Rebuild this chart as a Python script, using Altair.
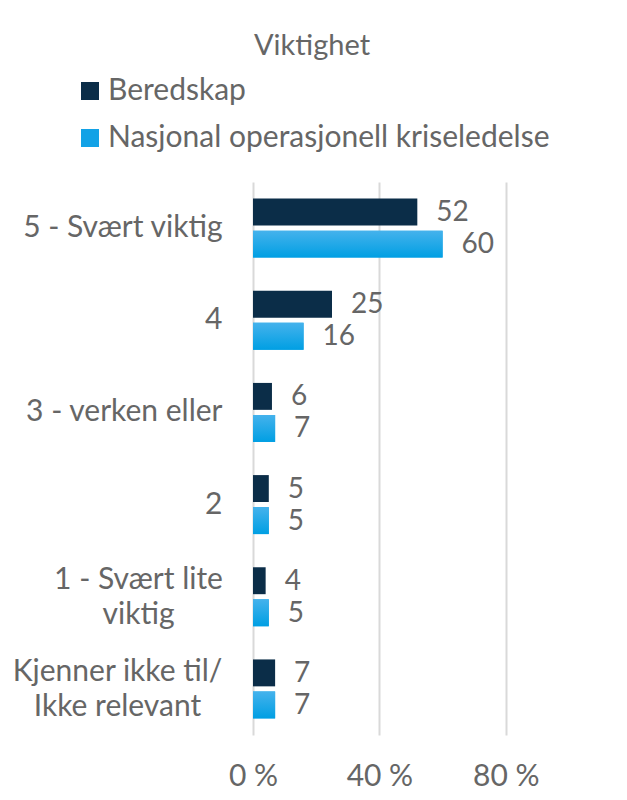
import altair as alt
import pandas as pd

categories = ["5 - Svært viktig", "4", "3 - verken eller", "2",
              "1 - Svært lite\nviktig", "Kjenner ikke til/\nIkke relevant"]
series = ["Beredskap", "Nasjonal operasjonell kriseledelse"]
beredskap = [52, 25, 6, 5, 4, 7]
nasjonal = [60, 16, 7, 5, 5, 7]

rows = []
for c, a, b in zip(categories, beredskap, nasjonal):
    rows.append({"kategori": c, "serie": series[0], "verdi": a})
    rows.append({"kategori": c, "serie": series[1], "verdi": b})
df = pd.DataFrame(rows)

FONT = "Lato"
GREY = "#666666"
DARK = "#0b2d48"
LIGHT = "#12a2e6"

multi = "indexof(datum.value, '\\n') >= 0"
y_enc = alt.Y("kategori:N", sort=categories, title=None,
              scale=alt.Scale(paddingInner=0.36, paddingOuter=0.18),
              axis=alt.Axis(labelExpr="split(datum.value, '\\n')", labelFontSize=30,
                            labelColor=GREY, labelFont=FONT,
                            labelPadding={"condition": [
                                {"test": "datum.value == '1 - Svært lite\\nviktig'", "value": 115},
                                {"test": "datum.value == 'Kjenner ikke til/\\nIkke relevant'", "value": 136}],
                                "value": 31},
                            labelAlign={"condition": {"test": multi, "value": "center"},
                                        "value": "right"},
                            labelOffset={"condition": {"test": multi, "value": -17},
                                         "value": 0},
                            labelLineHeight=35, ticks=False, domain=False,
                            labelLimit=400))
x_enc = alt.X("verdi:Q", title=None,
              scale=alt.Scale(domain=[0, 100], nice=False),
              axis=alt.Axis(values=[0, 40, 80], labelExpr="datum.value + ' %'",
                            labelFontSize=30, labelColor=GREY, labelFont=FONT,
                            labelPadding=26, labelFlush=False, ticks=False,
                            domain=False, gridColor="#d9d9d9", gridWidth=2))
yoff = alt.YOffset("serie:N", sort=series,
                   scale=alt.Scale(paddingInner=0.16, paddingOuter=0))

base = alt.Chart(df)

bars = base.mark_bar().encode(
    y=y_enc, x=x_enc, yOffset=yoff,
    color=alt.Color("serie:N", sort=series,
                    scale=alt.Scale(domain=series, range=[DARK, LIGHT]),
                    legend=alt.Legend(title="Viktighet", orient="none",
                                      legendX=-178, legendY=-150,
                                      direction="vertical",
                                      titleFontSize=29, titleFont=FONT,
                                      titleColor=GREY, titleFontWeight="normal",
                                      titleAnchor="middle", titlePadding=15,
                                      labelFontSize=30, labelFont=FONT,
                                      labelColor=GREY, labelOffset=3,
                                      symbolType="square", symbolSize=324,
                                      symbolStrokeWidth=0, rowPadding=17,
                                      labelLimit=700))
)

grad = alt.Gradient(gradient="linear", x1=0, x2=0, y1=0, y2=1,
                    stops=[alt.GradientStop(color="#45b2ec", offset=0),
                           alt.GradientStop(color="#009fe3", offset=1)])
light_bars = base.transform_filter(
    alt.datum.serie == series[1]
).mark_bar(fill=grad).encode(y=y_enc, x=x_enc, yOffset=yoff)

labels = base.mark_text(align="left", baseline="middle", dx=19, dy=1,
                        fontSize=28, font=FONT, color=GREY).encode(
    y=y_enc, x=x_enc, yOffset=yoff, text="verdi:Q")

chart = alt.layer(bars, light_bars, labels).properties(
    width=316, height=553,
    autosize=alt.AutoSizeParams(type="none"),
    padding={"left": 245, "top": 174, "right": 50, "bottom": 57},
).configure_view(stroke=None)

chart.save("out.html", embed_options={"renderer": "svg", "actions": False})
